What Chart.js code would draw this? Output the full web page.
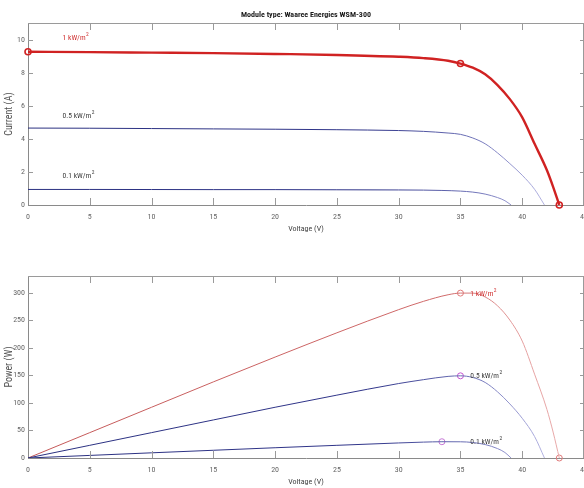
<!DOCTYPE html>
<html>
<head>
<meta charset="utf-8">
<script src="https://cdn.jsdelivr.net/npm/chart.js@4"></script>
<style>
  html, body { margin: 0; padding: 0; background: #fff; overflow: hidden; }
  .panel { position: absolute; left: 0; width: 600px; }
  #ivPanel { top: 0; height: 235px; }
  #pvPanel { top: 235px; height: 253px; }
</style>
</head>
<body>
<div class="panel" id="ivPanel"><canvas id="ivChart"></canvas></div>
<div class="panel" id="pvPanel"><canvas id="pvChart"></canvas></div>
<script>
// ==========================================
// DATA
// ==========================================

// 1 kW/m2
const voltageFull = [0, 5, 10, 15, 20, 25, 30, 32, 34, 35, 36, 37, 38, 39, 40, 41, 42, 42.5, 43];
const currentFull = [9.26, 9.24, 9.21, 9.18, 9.13, 9.07, 8.96, 8.88, 8.72, 8.55, 8.3, 7.9, 7.25, 6.4, 5.3, 3.7, 2.1, 1.1, 0];
const powerFull   = [0, 46, 92, 138, 183, 227, 269, 284, 296, 299, 299, 292, 276, 250, 212, 152, 88, 47, 0];

// 0.5 kW/m2
const voltageHalf = [0, 5, 10, 15, 20, 25, 30, 32, 34, 35, 36, 37, 38, 39, 40, 41, 41.8];
const currentHalf = [4.65, 4.64, 4.62, 4.6, 4.58, 4.55, 4.5, 4.45, 4.35, 4.27, 4.05, 3.7, 3.15, 2.5, 1.8, 0.95, 0];
const powerHalf   = [0, 23, 46, 69, 92, 114, 135, 142, 148, 149, 146, 137, 120, 98, 72, 39, 0];

// 0.1 kW/m2
const voltageLow = [0, 5, 10, 15, 20, 25, 30, 32, 33.5, 35, 36, 37, 38, 38.6, 39.1];
const currentLow = [0.94, 0.94, 0.935, 0.93, 0.93, 0.92, 0.91, 0.9, 0.88, 0.84, 0.78, 0.66, 0.45, 0.26, 0];
const powerLow   = [0, 4.7, 9.4, 14, 18.6, 23, 27.3, 28.8, 29.5, 29.4, 28.1, 24.4, 17.1, 10, 0];

// marked points: [voltage, value]
const ivMarks = [[0, 9.26], [35, 8.55], [43, 0]];
const pvMarkFull = [[35, 299], [43, 0]];
const pvMarkHalf = [[35, 149]];
const pvMarkLow = [[33.5, 29.5]];

// tick labels
const voltageTicks = [0, 5, 10, 15, 20, 25, 30, 35, 40, 45];
const currentTicks = [0, 2, 4, 6, 8, 10];
const powerTicks = [0, 50, 100, 150, 200, 250, 300];

// curve labels
const ivLabels = [
    { text: '1 kW/m', v: 2.8, val: 10.1, color: '#d03030' },
    { text: '0.5 kW/m', v: 2.8, val: 5.4, color: '#3a3a3a' },
    { text: '0.1 kW/m', v: 2.8, val: 1.75, color: '#3a3a3a' }
];
const pvLabels = [
    { text: '1 kW/m', v: 35.8, val: 298, color: '#d03030' },
    { text: '0.5 kW/m', v: 35.8, val: 149, color: '#3a3a3a' },
    { text: '0.1 kW/m', v: 35.8, val: 29, color: '#3a3a3a' }
];

// ==========================================
// HELPERS
// ==========================================

const FONT = "'Roboto Condensed', 'Open Sans Condensed', sans-serif";

const toPoints = (xs, ys) => xs.map((x, i) => ({ x: x, y: ys[i] }));
const markPoints = (marks) => marks.map(m => ({ x: m[0], y: m[1] }));

// thin lines look lighter where they get steep
const fade = (stops) => (ctx) => {
    const area = ctx.chart.chartArea;
    if (!area) return stops[0][1];
    const g = ctx.chart.ctx.createLinearGradient(area.left, 0, area.right, 0);
    stops.forEach(s => g.addColorStop(s[0], s[1]));
    return g;
};
const navyFade = fade([[0, '#2a3080'], [0.62, '#30358a'], [0.8, '#6f73b8'], [0.93, '#b4b4e2']]);
const redFade = fade([[0, '#c45858'], [0.75, '#d06a6a'], [0.9, '#e6a2a2'], [1, '#eab0b0']]);

const curve = (xs, ys, color, width) => ({
    data: toPoints(xs, ys),
    showLine: true,
    borderColor: color,
    borderWidth: width,
    pointRadius: 0,
    cubicInterpolationMode: 'monotone'
});

const marker = (marks, color, width) => ({
    data: markPoints(marks),
    showLine: false,
    pointRadius: 3,
    pointBorderWidth: width,
    pointBorderColor: color,
    pointBackgroundColor: 'rgba(0,0,0,0)',
    clip: false
});

// MATLAB style box with inward ticks
const framePlugin = {
    id: 'frame',
    afterDatasetsDraw(chart) {
        const { ctx, chartArea: a, scales: { x, y } } = chart;
        ctx.save();
        ctx.strokeStyle = '#9a9a9a';
        ctx.lineWidth = 1;
        ctx.beginPath();
        ctx.moveTo(a.left, a.top + 0.5);
        ctx.lineTo(a.right, a.top + 0.5);
        ctx.moveTo(a.right - 0.5, a.top);
        ctx.lineTo(a.right - 0.5, a.bottom);
        x.ticks.forEach(t => {
            const px = Math.round(x.getPixelForValue(t.value)) + 0.5;
            if (px <= a.left + 1 || px >= a.right - 1) return;
            ctx.moveTo(px, a.bottom);
            ctx.lineTo(px, a.bottom - 7);
            ctx.moveTo(px, a.top);
            ctx.lineTo(px, a.top + 7);
        });
        y.ticks.forEach(t => {
            const py = Math.round(y.getPixelForValue(t.value)) + 0.5;
            if (py >= a.bottom - 1) return;
            ctx.moveTo(a.right, py);
            ctx.lineTo(a.right - 4, py);
            ctx.moveTo(a.left, py);
            ctx.lineTo(a.left + 5, py);
        });
        ctx.stroke();
        ctx.restore();
    }
};

const curveLabelPlugin = {
    id: 'curveLabels',
    afterDatasetsDraw(chart, args, opts) {
        const { ctx, scales: { x, y } } = chart;
        (opts.items || []).forEach(item => {
            const px = x.getPixelForValue(item.v);
            const py = y.getPixelForValue(item.val);
            ctx.save();
            ctx.fillStyle = item.color;
            ctx.textAlign = 'left';
            ctx.textBaseline = 'middle';
            ctx.font = '7.5px ' + FONT;
            ctx.fillText(item.text, px, py);
            const w = ctx.measureText(item.text).width;
            ctx.font = '5.5px ' + FONT;
            ctx.fillText('2', px + w + 0.5, py - 3.5);
            ctx.restore();
        });
    }
};

const makeOptions = (yTitle, yMin, yMax, yTicks, labels, titleText, topPad) => ({
    responsive: true,
    maintainAspectRatio: false,
    animation: false,
    layout: { padding: { top: topPad, right: 16, left: 0, bottom: 0 } },
    plugins: {
        legend: { display: false },
        tooltip: { enabled: false },
        title: {
            display: !!titleText,
            text: titleText,
            fullSize: false,
            color: '#1a1a1a',
            font: { family: FONT, size: 8, weight: 'bold' },
            padding: { top: 10.2, bottom: 3.2 }
        },
        curveLabels: { items: labels }
    },
    scales: {
        x: {
            type: 'linear',
            min: 0,
            max: 45,
            afterBuildTicks: (scale) => { scale.ticks = voltageTicks.map(v => ({ value: v })); },
            afterFit: (scale) => { scale.height = 30; },
            grid: { display: false, drawTicks: false },
            border: { display: true, color: '#8a8a8a' },
            ticks: {
                color: '#666666',
                font: { family: FONT, size: 8 },
                padding: 7.2,
                maxRotation: 0
            },
            title: {
                display: true,
                text: 'Voltage (V)',
                color: '#444444',
                font: { family: FONT, size: 8 },
                padding: { top: 0, bottom: 1.2 }
            }
        },
        y: {
            type: 'linear',
            min: yMin,
            max: yMax,
            afterBuildTicks: (scale) => { scale.ticks = yTicks.map(v => ({ value: v })); },
            afterFit: (scale) => { scale.width = 28; },
            grid: { display: false, drawTicks: false },
            border: { display: true, color: '#8a8a8a' },
            ticks: {
                color: '#666666',
                font: { family: FONT, size: 8 },
                padding: 3
            },
            title: {
                display: true,
                text: yTitle,
                color: '#505050',
                font: { family: FONT, size: 10 },
                padding: { top: 3, bottom: 0 }
            }
        }
    }
});

// ==========================================
// CURRENT vs VOLTAGE
// ==========================================

const ivChart = new Chart(document.getElementById('ivChart').getContext('2d'), {
    type: 'scatter',
    data: {
        datasets: [
            curve(voltageLow, currentLow, navyFade, 1),
            curve(voltageHalf, currentHalf, navyFade, 1),
            curve(voltageFull, currentFull, '#d02222', 2.4),
            marker(ivMarks, '#d02222', 1.6)
        ]
    },
    options: makeOptions('Current (A)', 0, 11, currentTicks, ivLabels, 'Module type: Waaree Energies WSM-300', 0),
    plugins: [framePlugin, curveLabelPlugin]
});

// ==========================================
// POWER vs VOLTAGE
// ==========================================

const pvChart = new Chart(document.getElementById('pvChart').getContext('2d'), {
    type: 'scatter',
    data: {
        datasets: [
            curve(voltageLow, powerLow, navyFade, 1),
            curve(voltageHalf, powerHalf, navyFade, 1),
            curve(voltageFull, powerFull, redFade, 1),
            marker(pvMarkFull, '#e07a7a', 1),
            marker(pvMarkHalf, '#c455d0', 1),
            marker(pvMarkLow, '#c77ad6', 1)
        ]
    },
    options: makeOptions('Power (W)', 0, 330, powerTicks, pvLabels, '', 41),
    plugins: [framePlugin, curveLabelPlugin]
});
</script>
</body>
</html>
